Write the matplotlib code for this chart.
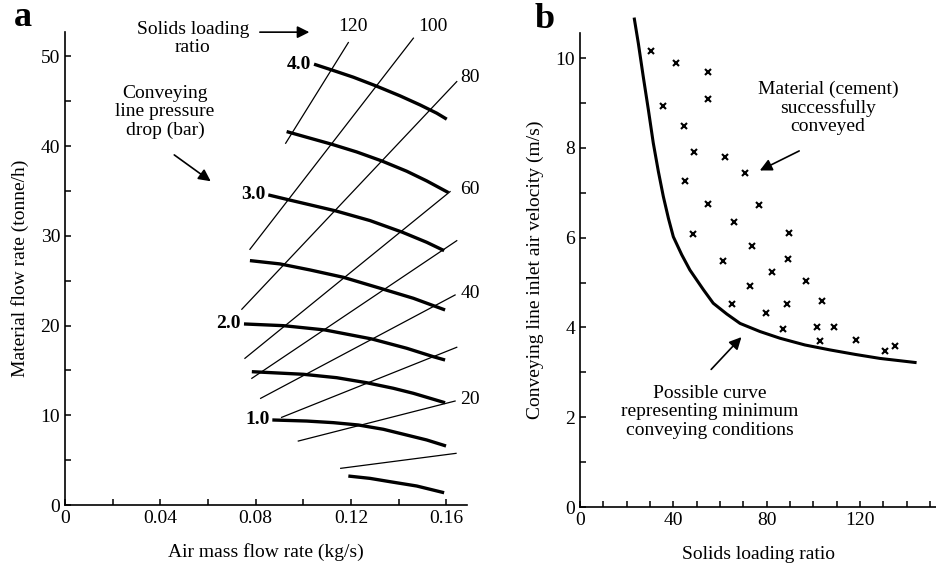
import matplotlib.pyplot as plt
from matplotlib.ticker import MultipleLocator

plt.rcParams["font.family"] = ["Liberation Serif", "DejaVu Serif"]
plt.rcParams["font.size"] = 14

# ---- panel a: conveying characteristics ----
# pressure drop curves (bar): (air kg/s, material t/h)
pressure_labels = ["4.0", None, "3.0", None, "2.0", None, "1.0", None]
pressure_x = [
    [0.1045, 0.1119, 0.1210, 0.1305, 0.1406, 0.1490, 0.1560, 0.1602],
    [0.0930, 0.1014, 0.1119, 0.1224, 0.1329, 0.1434, 0.1518, 0.1609],
    [0.0853, 0.0941, 0.1042, 0.1136, 0.1280, 0.1416, 0.1518, 0.1591],
    [0.0776, 0.0902, 0.1028, 0.1168, 0.1336, 0.1462, 0.1595],
    [0.0751, 0.0916, 0.1091, 0.1287, 0.1434, 0.1546, 0.1595],
    [0.0784, 0.1000, 0.1140, 0.1266, 0.1378, 0.1462, 0.1595],
    [0.0870, 0.1014, 0.1126, 0.1231, 0.1336, 0.1434, 0.1518, 0.1599],
    [0.1189, 0.1280, 0.1364, 0.1476, 0.1591],
]
pressure_y = [
    [49.13, 48.49, 47.68, 46.71, 45.60, 44.59, 43.67, 43.00],
    [41.62, 40.99, 40.21, 39.35, 38.35, 37.20, 36.12, 34.82],
    [34.56, 34.00, 33.37, 32.78, 31.70, 30.40, 29.28, 28.35],
    [27.24, 26.87, 26.20, 25.38, 24.05, 23.04, 21.74],
    [20.18, 19.99, 19.51, 18.51, 17.47, 16.53, 16.16],
    [14.86, 14.57, 14.19, 13.63, 13.01, 12.45, 11.40],
    [9.48, 9.36, 9.18, 8.92, 8.44, 7.80, 7.25, 6.58],
    [3.23, 2.97, 2.60, 2.12, 1.37],
]

# solids loading ratio lines: end points (x0, y0) -> (x1, y1)
slr_values = [120, 100, 80, 60, 50, 40, 30, 20, 10]
slr_x0 = [0.0926, 0.0776, 0.0742, 0.0755, 0.0784, 0.0821, 0.0909, 0.0979, 0.1157]
slr_y0 = [40.32, 28.50, 21.82, 16.35, 14.12, 11.89, 9.77, 7.13, 4.09]
slr_x1 = [0.1189, 0.1462, 0.1644, 0.1616, 0.1644, 0.1637, 0.1644, 0.1637, 0.1641]
slr_y1 = [51.54, 52.03, 47.19, 34.93, 29.46, 23.41, 17.58, 11.59, 5.76]

# ---- panel b: minimum conveying conditions ----
curve_slr = [23.3, 25.0, 27.1, 29.3, 31.4, 33.6, 35.7, 37.9, 40.0, 43.6, 47.1,
             52.9, 57.1, 62.9, 68.6, 77.1, 85.7, 96.4, 107.1, 117.9, 128.6, 143.6]
curve_vel = [10.87, 10.33, 9.59, 8.85, 8.11, 7.47, 6.92, 6.43, 6.02, 5.62, 5.28,
             4.84, 4.54, 4.30, 4.09, 3.91, 3.76, 3.61, 3.50, 3.40, 3.31, 3.22]

test_slr = [30.3, 41.1, 55.0, 35.7, 54.7, 44.7, 49.0, 62.1, 70.7, 45.0, 54.7,
            76.7, 66.0, 48.6, 89.6, 73.9, 61.4, 89.3, 82.2, 72.9, 96.9,
            65.0, 79.7, 88.6, 103.6, 86.9, 101.4, 108.9, 102.9, 118.3, 130.7, 135.0]
test_vel = [10.15, 9.89, 9.70, 8.94, 9.09, 8.48, 7.90, 7.79, 7.44, 7.27, 6.75,
            6.73, 6.34, 6.08, 6.10, 5.82, 5.49, 5.52, 5.24, 4.93, 5.04,
            4.52, 4.32, 4.52, 4.59, 3.97, 4.00, 4.00, 3.70, 3.72, 3.48, 3.59]


def style_axes(ax):
    for side in ("top", "right"):
        ax.spines[side].set_visible(False)
    for side in ("left", "bottom"):
        ax.spines[side].set_linewidth(1.2)
    ax.tick_params(which="both", direction="in", length=4, width=1.1, labelsize=14)


fig = plt.figure(figsize=(9.37, 5.67), dpi=100)
ax_a = fig.add_axes([0.0694, 0.1093, 0.429, 0.834])
ax_b = fig.add_axes([0.619, 0.1058, 0.381, 0.836])

# panel a
for x0, y0, x1, y1 in zip(slr_x0, slr_y0, slr_x1, slr_y1):
    ax_a.plot([x0, x1], [y0, y1], color="k", lw=0.9, clip_on=False)
for xs, ys, lab in zip(pressure_x, pressure_y, pressure_labels):
    ax_a.plot(xs, ys, color="k", lw=2.4, solid_capstyle="butt")
    if lab:
        ax_a.text(xs[0] - 0.0012, ys[0], lab, ha="right", va="center",
                  fontweight="bold", fontsize=14)

# loading ratio labels
ax_a.text(0.1209, 53.3, "120", ha="center", va="center")
ax_a.text(0.1544, 53.3, "100", ha="center", va="center")
for lab, yv in zip(["80", "60", "40", "20"], [47.6, 35.2, 23.6, 11.8]):
    ax_a.text(0.1660, yv, lab, ha="left", va="center")

ax_a.text(0.0537, 52.0, "Solids loading\nratio", ha="center", va="center",
          linespacing=1.1)
ax_a.annotate("", xy=(0.1037, 52.7), xytext=(0.0806, 52.7),
              arrowprops=dict(arrowstyle="-|>", lw=1.2, color="k", mutation_scale=18),
              annotation_clip=False)
ax_a.text(0.042, 43.8, "Conveying\nline pressure\ndrop (bar)", ha="center",
          va="center", linespacing=1.1)
ax_a.annotate("", xy=(0.0621, 35.9), xytext=(0.0449, 39.2),
              arrowprops=dict(arrowstyle="-|>", lw=1.2, color="k", mutation_scale=18))

ax_a.set_xlim(0, 0.1687)
ax_a.set_ylim(0, 52.7)
ax_a.set_xticks([0, 0.04, 0.08, 0.12, 0.16])
ax_a.set_xticklabels(["0", "0.04", "0.08", "0.12", "0.16"])
ax_a.xaxis.set_minor_locator(MultipleLocator(0.02))
ax_a.set_yticks([0, 10, 20, 30, 40, 50])
ax_a.yaxis.set_minor_locator(MultipleLocator(5))
ax_a.set_xlabel("Air mass flow rate (kg/s)", fontsize=14, labelpad=12)
ax_a.set_ylabel("Material flow rate (tonne/h)", fontsize=14, labelpad=8)
style_axes(ax_a)

# panel b
ax_b.plot(curve_slr, curve_vel, color="k", lw=2.2, clip_on=False)
ax_b.plot(test_slr, test_vel, ls="none", marker="x", color="k", ms=4.5, mew=1.5)

ax_b.text(106.3, 8.89, "Material (cement)\nsuccessfully\nconveyed", ha="center",
          va="center", linespacing=1.1)
ax_b.annotate("", xy=(76.0, 7.47), xytext=(95.0, 7.96),
              arrowprops=dict(arrowstyle="-|>", lw=1.2, color="k", mutation_scale=18))
ax_b.text(55.7, 2.12, "Possible curve\nrepresenting minimum\nconveying conditions",
          ha="center", va="center", linespacing=1.1)
ax_b.annotate("", xy=(70.0, 3.83), xytext=(55.4, 3.02),
              arrowprops=dict(arrowstyle="-|>", lw=1.2, color="k", mutation_scale=18))

ax_b.set_xlim(0, 153)
ax_b.set_ylim(0, 10.56)
ax_b.set_xticks([0, 40, 80, 120])
ax_b.xaxis.set_minor_locator(MultipleLocator(10))
ax_b.set_yticks([0, 2, 4, 6, 8, 10])
ax_b.yaxis.set_minor_locator(MultipleLocator(1))
ax_b.set_xlabel("Solids loading ratio", fontsize=14, labelpad=12)
ax_b.set_ylabel("Conveying line inlet air velocity (m/s)", fontsize=14, labelpad=8)
style_axes(ax_b)

fig.text(23 / 937, 1 - 18 / 567, "a", fontsize=26, fontweight="bold",
         ha="center", va="center")
fig.text(545 / 937, 1 - 20 / 567, "b", fontsize=26, fontweight="bold",
         ha="center", va="center")

fig.savefig("out.png", dpi=100)
